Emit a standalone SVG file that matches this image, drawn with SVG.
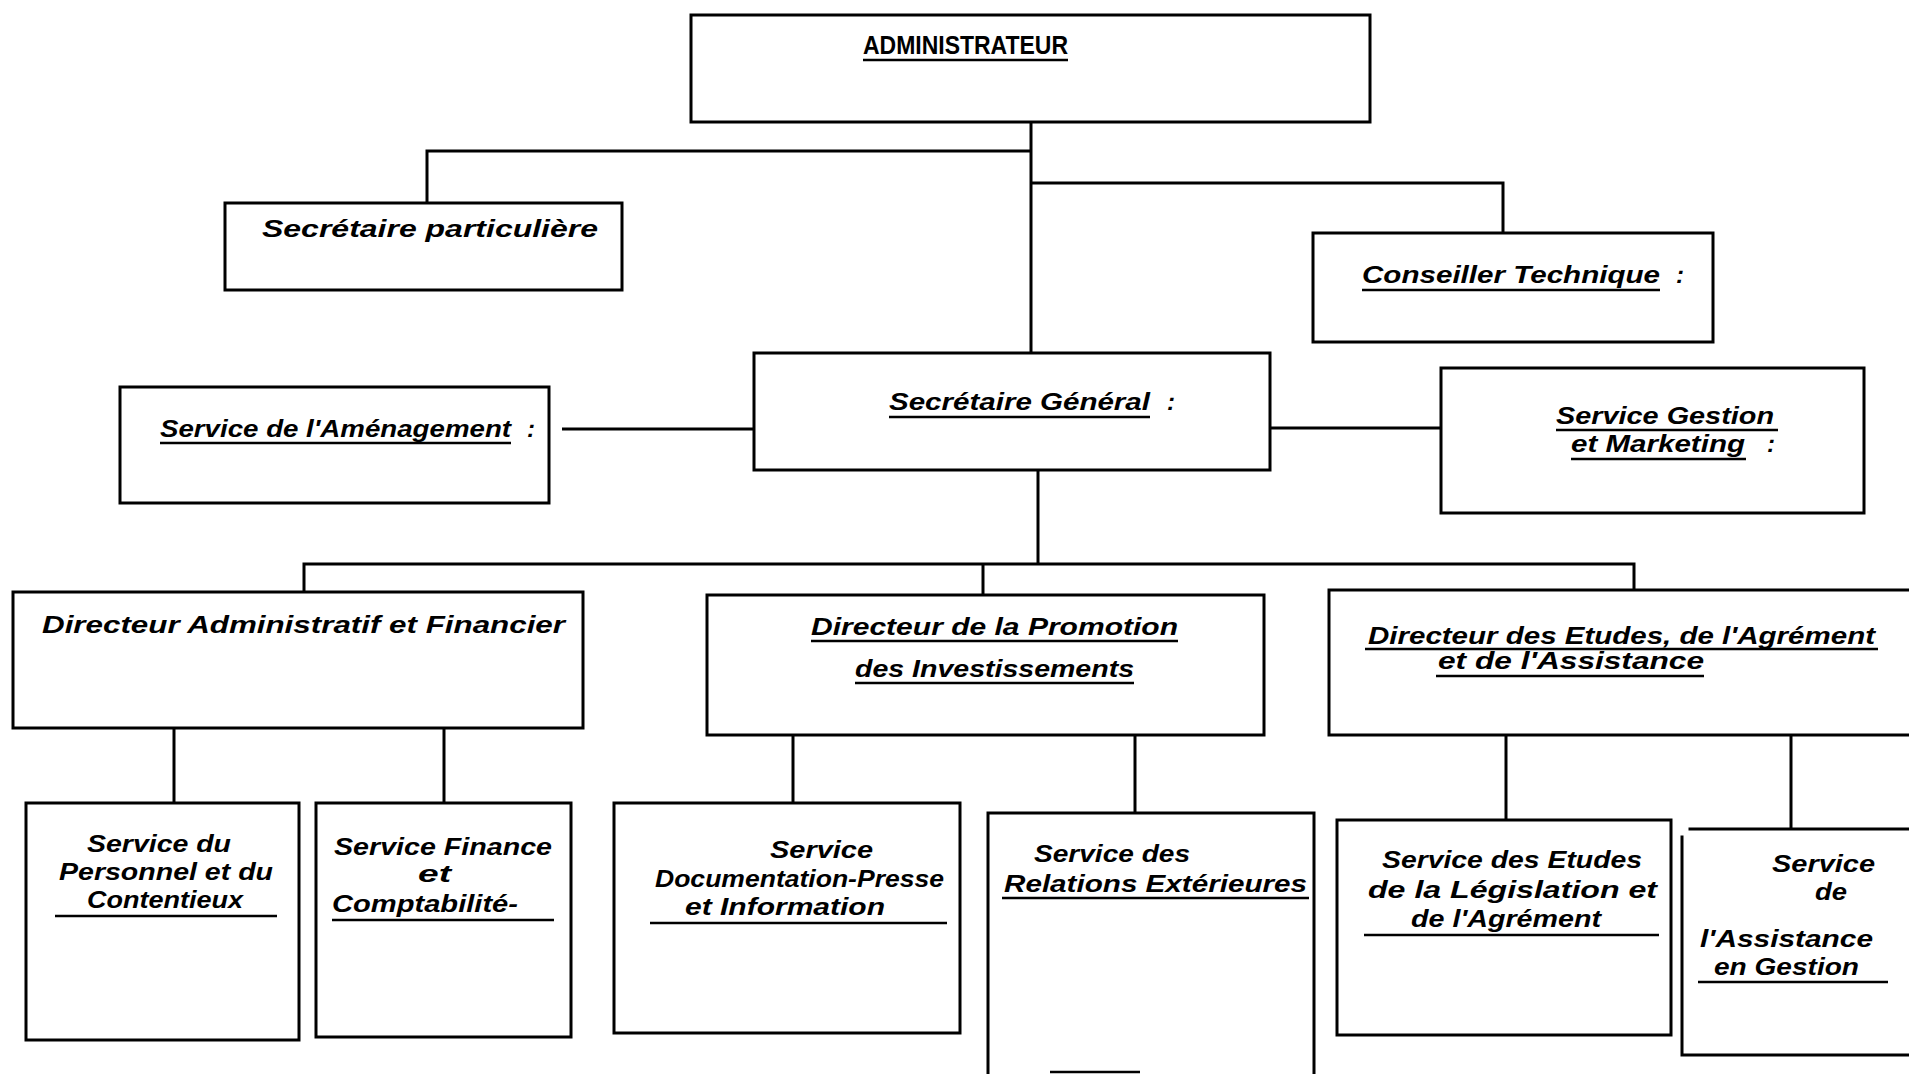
<svg xmlns="http://www.w3.org/2000/svg" width="1909" height="1074" viewBox="0 0 1909 1074">
<style>
.b{fill:none;stroke:#000;stroke-width:3;stroke-linecap:square}
.c{fill:none;stroke:#000;stroke-width:3}
.u{stroke:#000;stroke-width:2.5}
text{font-family:"Liberation Sans",Arial,sans-serif;font-weight:bold;font-style:italic;font-size:24px;fill:#000}
.cap{font-style:normal;font-size:26px}
</style>
<rect width="1909" height="1074" fill="#fff"/>
<g id="connectors">
<path class="c" d="M1031,122 V353"/>
<path class="c" d="M427,203 V151 H1031"/>
<path class="c" d="M1031,183 H1503 V233"/>
<path class="c" d="M562,429 H754"/>
<path class="c" d="M1270,428 H1441"/>
<path class="c" d="M1038,470 V564"/>
<path class="c" d="M304,592 V564 H1634 V590"/>
<path class="c" d="M983,564 V595"/>
<path class="c" d="M174,728 V803"/>
<path class="c" d="M444,728 V803"/>
<path class="c" d="M793,735 V803"/>
<path class="c" d="M1135,735 V813"/>
<path class="c" d="M1506,735 V820"/>
<path class="c" d="M1791,735 V829"/>
</g>
<g id="administrateur">
<rect class="b" x="691" y="15" width="679" height="107"/>
<text class="cap" x="863" y="54" textLength="205" lengthAdjust="spacingAndGlyphs">ADMINISTRATEUR</text>
<line class="u" x1="863" y1="60" x2="1068" y2="60"/>
</g>
<g id="secretaire-particuliere">
<rect class="b" x="225" y="203" width="397" height="87"/>
<text x="262" y="237" textLength="336" lengthAdjust="spacingAndGlyphs">Secrétaire particulière</text>
</g>
<g id="conseiller-technique">
<rect class="b" x="1313" y="233" width="400" height="109"/>
<text x="1362" y="283" textLength="298" lengthAdjust="spacingAndGlyphs">Conseiller Technique</text>
<text x="1676" y="283">:</text>
<line class="u" x1="1362" y1="290" x2="1660" y2="290"/>
</g>
<g id="service-amenagement">
<rect class="b" x="120" y="387" width="429" height="116"/>
<text x="160" y="437" textLength="351" lengthAdjust="spacingAndGlyphs">Service de l'Aménagement</text>
<text x="527" y="437">:</text>
<line class="u" x1="160" y1="443" x2="511" y2="443"/>
</g>
<g id="secretaire-general">
<rect class="b" x="754" y="353" width="516" height="117"/>
<text x="889" y="410" textLength="261" lengthAdjust="spacingAndGlyphs">Secrétaire Général</text>
<text x="1167" y="410">:</text>
<line class="u" x1="889" y1="417" x2="1150" y2="417"/>
</g>
<g id="service-gestion-marketing">
<rect class="b" x="1441" y="368" width="423" height="145"/>
<text x="1556" y="424" textLength="218" lengthAdjust="spacingAndGlyphs">Service Gestion</text>
<line class="u" x1="1556" y1="430" x2="1778" y2="430"/>
<text x="1571" y="452" textLength="174" lengthAdjust="spacingAndGlyphs">et Marketing</text>
<text x="1767" y="452">:</text>
<line class="u" x1="1571" y1="459" x2="1746" y2="459"/>
</g>
<g id="directeur-administratif-financier">
<rect class="b" x="13" y="592" width="570" height="136"/>
<text x="42" y="633" textLength="523" lengthAdjust="spacingAndGlyphs">Directeur Administratif et Financier</text>
</g>
<g id="directeur-promotion">
<rect class="b" x="707" y="595" width="557" height="140"/>
<text x="811" y="635" textLength="367" lengthAdjust="spacingAndGlyphs">Directeur de la Promotion</text>
<line class="u" x1="811" y1="641" x2="1178" y2="641"/>
<text x="855" y="677" textLength="279" lengthAdjust="spacingAndGlyphs">des Investissements</text>
<line class="u" x1="855" y1="683" x2="1134" y2="683"/>
</g>
<g id="directeur-etudes">
<path class="b" d="M1909,590 H1329 V735 H1909"/>
<text x="1368" y="644" textLength="507" lengthAdjust="spacingAndGlyphs">Directeur des Etudes, de l'Agrément</text>
<line class="u" x1="1365" y1="649" x2="1878" y2="649"/>
<text x="1438" y="669" textLength="266" lengthAdjust="spacingAndGlyphs">et de l'Assistance</text>
<line class="u" x1="1436" y1="676" x2="1704" y2="676"/>
</g>
<g id="service-personnel">
<rect class="b" x="26" y="803" width="273" height="237"/>
<text x="87" y="852" textLength="144" lengthAdjust="spacingAndGlyphs">Service du</text>
<text x="59" y="880" textLength="214" lengthAdjust="spacingAndGlyphs">Personnel et du</text>
<text x="87" y="908" textLength="156" lengthAdjust="spacingAndGlyphs">Contentieux</text>
<line class="u" x1="55" y1="916" x2="277" y2="916"/>
</g>
<g id="service-finance">
<rect class="b" x="316" y="803" width="255" height="234"/>
<text x="334" y="855" textLength="218" lengthAdjust="spacingAndGlyphs">Service Finance</text>
<text x="418" y="882" textLength="33" lengthAdjust="spacingAndGlyphs">et</text>
<text x="332" y="912" textLength="186" lengthAdjust="spacingAndGlyphs">Comptabilité-</text>
<line class="u" x1="332" y1="920" x2="554" y2="920"/>
</g>
<g id="service-documentation">
<rect class="b" x="614" y="803" width="346" height="230"/>
<text x="770" y="858" textLength="103" lengthAdjust="spacingAndGlyphs">Service</text>
<text x="655" y="887" textLength="289" lengthAdjust="spacingAndGlyphs">Documentation-Presse</text>
<text x="685" y="915" textLength="200" lengthAdjust="spacingAndGlyphs">et Information</text>
<line class="u" x1="650" y1="923" x2="947" y2="923"/>
</g>
<g id="service-relations-exterieures">
<path class="b" d="M988,1074 V813 H1314 V1074"/>
<line class="u" x1="1050" y1="1072" x2="1140" y2="1072"/>
<text x="1034" y="862" textLength="156" lengthAdjust="spacingAndGlyphs">Service des</text>
<text x="1004" y="892" textLength="303" lengthAdjust="spacingAndGlyphs">Relations Extérieures</text>
<line class="u" x1="1002" y1="898" x2="1309" y2="898"/>
</g>
<g id="service-etudes-legislation">
<rect class="b" x="1337" y="820" width="334" height="215"/>
<text x="1382" y="868" textLength="260" lengthAdjust="spacingAndGlyphs">Service des Etudes</text>
<text x="1368" y="898" textLength="289" lengthAdjust="spacingAndGlyphs">de la Législation et</text>
<text x="1411" y="927" textLength="190" lengthAdjust="spacingAndGlyphs">de l'Agrément</text>
<line class="u" x1="1364" y1="935" x2="1659" y2="935"/>
</g>
<g id="service-assistance-gestion">
<path class="b" d="M1690,829 H1909"/>
<path class="b" d="M1682,837 V1055 H1909"/>
<text x="1772" y="872" textLength="103" lengthAdjust="spacingAndGlyphs">Service</text>
<text x="1815" y="900" textLength="32" lengthAdjust="spacingAndGlyphs">de</text>
<text x="1700" y="947" textLength="173" lengthAdjust="spacingAndGlyphs">l'Assistance</text>
<text x="1714" y="975" textLength="145" lengthAdjust="spacingAndGlyphs">en Gestion</text>
<line class="u" x1="1698" y1="982" x2="1888" y2="982"/>
</g>
</svg>
